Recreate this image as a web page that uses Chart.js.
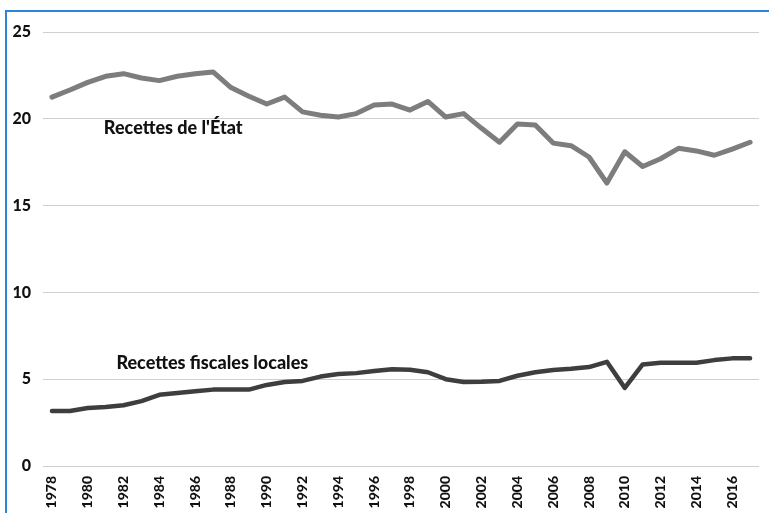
<!DOCTYPE html>
<html>
<head>
<meta charset="utf-8">
<script src="https://cdn.jsdelivr.net/npm/chart.js@4/dist/chart.umd.min.js"></script>
<style>
  html, body { margin: 0; padding: 0; background: #fff; }
  #wrap { position: relative; width: 769px; height: 513px; overflow: hidden; }
  #frame { position: absolute; left: 5px; top: 10px; width: 800px; height: 600px;
           border-left: 2px solid #2a86d6; border-top: 2px solid #2a86d6; }
  #c { position: absolute; left: 0; top: 0; }
</style>
</head>
<body>
<div id="wrap">
  <div id="frame"></div>
  <canvas id="c" width="769" height="513"></canvas>
</div>
<script>
const years = [];
for (let y = 1978; y <= 2017; y++) years.push(String(y));

const recettesEtat = [
  21.25, 21.66, 22.1, 22.45, 22.6, 22.35, 22.2, 22.45, 22.6, 22.7,
  21.8, 21.3, 20.85, 21.25, 20.4, 20.2, 20.1, 20.3, 20.8, 20.85,
  20.5, 21.0, 20.1, 20.3, 19.45, 18.65, 19.7, 19.64, 18.6, 18.45,
  17.8, 16.3, 18.1, 17.25, 17.7, 18.3, 18.15, 17.9, 18.25, 18.65
];

const recettesLocales = [
  3.17, 3.17, 3.34, 3.4, 3.5, 3.74, 4.1, 4.2, 4.3, 4.4,
  4.4, 4.4, 4.67, 4.84, 4.9, 5.15, 5.3, 5.35, 5.47, 5.57,
  5.55, 5.4, 5.0, 4.84, 4.85, 4.9, 5.2, 5.4, 5.53, 5.6,
  5.7, 6.0, 4.5, 5.85, 5.95, 5.95, 5.95, 6.1, 6.2, 6.2
];

const yTicks = [0, 5, 10, 15, 20, 25];

// series names written inside the plot, anchored on category index / value
const seriesLabels = [
  { text: "Recettes de l'État", index: 2.9, value: 19.45 },
  { text: "Recettes fiscales locales", index: 3.6, value: 5.95 }
];

const FONT = "Lato, 'Open Sans', sans-serif";

const inlineLabels = {
  id: "inlineLabels",
  afterDatasetsDraw(chart, args, opts) {
    const { ctx, scales: { x, y } } = chart;
    ctx.save();
    ctx.font = "900 18px " + FONT;
    ctx.fillStyle = "#111";
    ctx.textBaseline = "middle";
    ctx.textAlign = "left";
    for (const l of opts.items || []) {
      const step = x.getPixelForValue(1) - x.getPixelForValue(0);
      ctx.fillText(l.text, x.getPixelForValue(0) + step * l.index, y.getPixelForValue(l.value));
    }
    ctx.restore();
  }
};

new Chart(document.getElementById("c").getContext("2d"), {
  type: "line",
  data: {
    labels: years,
    datasets: [
      {
        label: "Recettes de l'État",
        data: recettesEtat,
        borderColor: "#7d7d7d",
        borderWidth: 5,
        pointRadius: 0,
        tension: 0,
        borderJoinStyle: "round",
        borderCapStyle: "round"
      },
      {
        label: "Recettes fiscales locales",
        data: recettesLocales,
        borderColor: "#3e3e3e",
        borderWidth: 4.5,
        pointRadius: 0,
        tension: 0,
        borderJoinStyle: "round",
        borderCapStyle: "round"
      }
    ]
  },
  options: {
    responsive: false,
    animation: false,
    layout: { padding: { top: 32, right: 8, left: 0, bottom: 0 } },
    plugins: {
      legend: { display: false },
      tooltip: { enabled: false },
      inlineLabels: { items: seriesLabels }
    },
    scales: {
      x: {
        offset: true,
        grid: { display: false },
        border: { display: false },
        afterFit(s) { s.height = 47; },
        ticks: {
          autoSkip: false,
          maxRotation: 90,
          minRotation: 90,
          padding: 2,
          color: "#111",
          font: { family: FONT, size: 14, weight: "900" },
          callback(v, i) { return i % 2 === 0 ? years[i] : ""; }
        }
      },
      y: {
        min: 0,
        max: 25,
        afterBuildTicks(s) { s.ticks = yTicks.map(v => ({ value: v })); },
        afterFit(s) { s.width = 43; },
        grid: { color: "#cfcfcf", lineWidth: 1, drawTicks: false },
        border: { display: false },
        ticks: {
          padding: 12,
          color: "#111",
          font: { family: FONT, size: 16, weight: "900" }
        }
      }
    }
  },
  plugins: [inlineLabels]
});
</script>
</body>
</html>
